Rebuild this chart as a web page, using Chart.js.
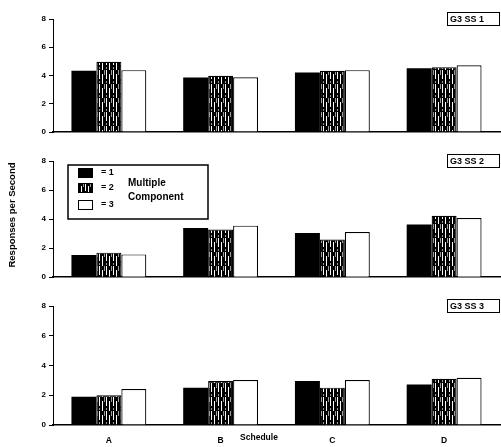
<!DOCTYPE html>
<html>
<head>
<meta charset="utf-8">
<script src="https://cdn.jsdelivr.net/npm/chart.js@4/dist/chart.umd.min.js"></script>
<style>
  html, body { margin: 0; padding: 0; background: #fff; }
  #wrap { position: relative; width: 501px; height: 447px; overflow: hidden; }
  #wrap canvas { position: absolute; left: 0; }
</style>
</head>
<body>
<div id="wrap">
  <canvas id="ss1" width="501" height="140" style="top:0px"></canvas>
  <canvas id="ss2" width="501" height="145" style="top:140px"></canvas>
  <canvas id="ss3" width="501" height="162" style="top:285px"></canvas>
</div>
<script>
// Schedules on the x axis, components 1-3 as the bars in each group
const schedules = ['A', 'B', 'C', 'D'];
const componentKeys = ['1', '2', '3'];
const panelNames = ['G3 SS 1', 'G3 SS 2', 'G3 SS 3'];
const yTicks = [0, 2, 4, 6, 8];

// Responses per second, by SS condition and component
const ss1Comp1 = [4.33, 3.86, 4.21, 4.52];
const ss1Comp2 = [4.97, 3.98, 4.33, 4.59];
const ss1Comp3 = [4.38, 3.88, 4.38, 4.73];

const ss2Comp1 = [1.53, 3.38, 3.04, 3.62];
const ss2Comp2 = [1.69, 3.28, 2.59, 4.23];
const ss2Comp3 = [1.57, 3.55, 3.11, 4.07];

const ss3Comp1 = [1.90, 2.51, 2.96, 2.73];
const ss3Comp2 = [2.00, 2.96, 2.51, 3.11];
const ss3Comp3 = [2.42, 3.03, 3.03, 3.18];

const FONT = '"Liberation Sans", Arial, Helvetica, sans-serif';
Chart.defaults.font.family = FONT;
Chart.defaults.color = '#000';

// dark fill with vertical light streaks, used for component 2
function streaks() {
  const c = document.createElement('canvas');
  c.width = 7; c.height = 14;
  const g = c.getContext('2d');
  g.fillStyle = '#000';
  g.fillRect(0, 0, 7, 14);
  g.fillStyle = '#fff';
  g.fillRect(1, 0, 1, 9);
  g.fillRect(4, 4, 1, 10);
  g.fillStyle = '#999';
  g.fillRect(6, 0, 1, 5);
  g.fillRect(1, 11, 1, 2);
  return g.createPattern(c, 'repeat');
}
const fills = ['#000000', streaks(), '#ffffff'];

// boxed condition label at the top right of each panel
const panelLabel = {
  id: 'panelLabel',
  afterDraw(chart, args, o) {
    const { ctx, chartArea } = chart;
    ctx.save();
    const x = chartArea.right - 53, y = chartArea.top - 7;
    ctx.fillStyle = '#fff';
    ctx.fillRect(x, y, 53, 14);
    ctx.strokeStyle = '#000';
    ctx.lineWidth = 1;
    ctx.strokeRect(x + 0.5, y + 0.5, 52, 13);
    ctx.fillStyle = '#000';
    ctx.font = 'bold 9px ' + FONT;
    ctx.textBaseline = 'middle';
    ctx.textAlign = 'left';
    ctx.fillText(o.text, x + 3, y + 7.5);
    ctx.restore();
  }
};

// key box inside the middle panel, plus the shared y title
const keyBox = {
  id: 'keyBox',
  afterDraw(chart, args, o) {
    if (!o.show) return;
    const { ctx, chartArea } = chart;
    const bx = chartArea.left + 15, by = chartArea.top + 4;
    ctx.save();
    ctx.fillStyle = '#fff';
    ctx.fillRect(bx, by, 140, 54);
    ctx.strokeStyle = '#000';
    ctx.lineWidth = 1.5;
    ctx.strokeRect(bx, by, 140, 54);
    const rows = [3, 18, 35];
    chart.data.datasets.forEach((ds, i) => {
      const sy = by + rows[i];
      ctx.fillStyle = ds.backgroundColor;
      ctx.fillRect(bx + 10, sy, 15, 10);
      ctx.lineWidth = 1;
      ctx.strokeStyle = '#000';
      ctx.strokeRect(bx + 10.5, sy + 0.5, 14, 9);
      ctx.fillStyle = '#000';
      ctx.font = 'bold 9px ' + FONT;
      ctx.textBaseline = 'middle';
      ctx.textAlign = 'left';
      ctx.fillText(ds.label, bx + 33, sy + 5);
    });
    ctx.font = 'bold 10px ' + FONT;
    ctx.fillText('Multiple', bx + 60, by + 18);
    ctx.fillText('Component', bx + 60, by + 32);

    // y title for all three panels
    ctx.save();
    ctx.translate(12, 75);
    ctx.rotate(-Math.PI / 2);
    ctx.font = 'bold 9.5px ' + FONT;
    ctx.textAlign = 'center';
    ctx.textBaseline = 'middle';
    ctx.fillText('Responses per Second', 0, 0);
    ctx.restore();
    ctx.restore();
  }
};

// x title drawn on the tick-label row between B and C
const scheduleTitle = {
  id: 'scheduleTitle',
  afterDraw(chart, args, o) {
    if (!o.show) return;
    const { ctx } = chart;
    ctx.save();
    ctx.fillStyle = '#000';
    ctx.font = 'bold 8.5px ' + FONT;
    ctx.textAlign = 'center';
    ctx.textBaseline = 'middle';
    ctx.fillText('Schedule', 259, 153);
    ctx.restore();
  }
};

function makePanel(id, name, series, opts) {
  const datasets = series.map((vals, i) => ({
    label: '= ' + componentKeys[i],
    data: vals,
    backgroundColor: fills[i],
    borderColor: '#000',
    borderWidth: i === 0 ? 0 : 1.2,
    categoryPercentage: 0.67,
    barPercentage: 1.0
  }));
  return new Chart(document.getElementById(id), {
    type: 'bar',
    data: { labels: schedules, datasets },
    options: {
      responsive: false,
      animation: false,
      events: [],
      layout: { padding: { top: opts.top, bottom: opts.bottom, left: 0, right: 1 } },
      plugins: {
        legend: { display: false },
        tooltip: { enabled: false },
        panelLabel: { text: name },
        keyBox: { show: !!opts.key },
        scheduleTitle: { show: !!opts.xTitle }
      },
      scales: {
        x: {
          grid: { display: false },
          border: { display: true, color: '#000', width: 1.5 },
          ticks: {
            display: !!opts.xTicks,
            color: '#000',
            padding: 3,
            font: { size: 8.5, weight: 'bold' }
          },
          afterFit: s => { s.height = opts.xHeight; }
        },
        y: {
          min: 0,
          max: 8,
          afterBuildTicks: s => { s.ticks = yTicks.map(v => ({ value: v })); },
          grid: { display: true, drawOnChartArea: false, tickLength: 4, color: '#000', lineWidth: 1 },
          border: { display: true, color: '#000', width: 1 },
          ticks: { color: '#000', padding: 3, font: { size: 8, weight: 'bold' } },
          afterFit: s => { s.width = 53; }
        }
      }
    },
    plugins: [panelLabel, keyBox, scheduleTitle]
  });
}

makePanel('ss1', panelNames[0], [ss1Comp1, ss1Comp2, ss1Comp3],
  { top: 19, bottom: 8, xHeight: 0 });
makePanel('ss2', panelNames[1], [ss2Comp1, ss2Comp2, ss2Comp3],
  { top: 21, bottom: 6, xHeight: 0, key: true });
makePanel('ss3', panelNames[2], [ss3Comp1, ss3Comp2, ss3Comp3],
  { top: 21, bottom: 0, xHeight: 22, xTicks: true, xTitle: true });
</script>
</body>
</html>
